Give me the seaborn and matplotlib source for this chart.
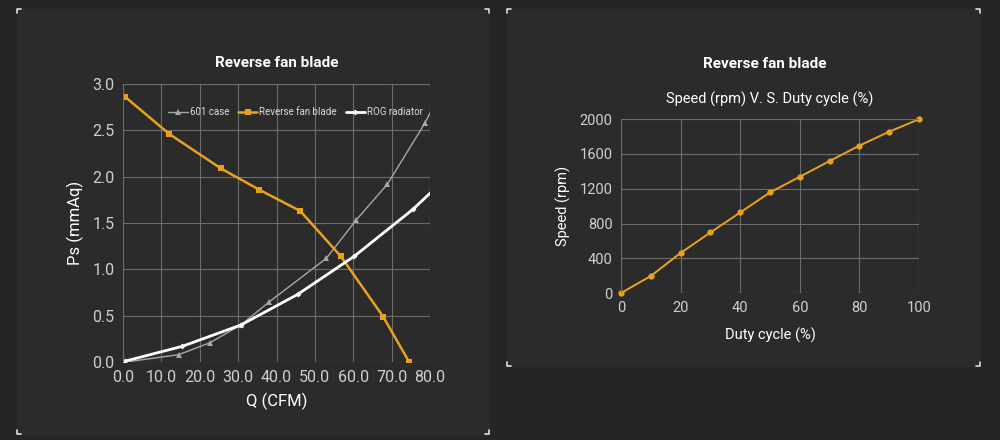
import matplotlib
matplotlib.use("Agg")
import matplotlib.pyplot as plt
import seaborn as sns
import pandas as pd
from matplotlib.patches import Rectangle

# P-Q curve data
case_q = [0.5, 14.5, 22.7, 30.7, 38.1, 53.0, 60.7, 68.9, 78.7, 82.0]
case_ps = [0.0, 0.08, 0.21, 0.40, 0.65, 1.12, 1.53, 1.92, 2.58, 2.85]
blade_q = [0.6, 12.1, 25.5, 35.5, 46.2, 56.8, 67.8, 74.6]
blade_ps = [2.86, 2.46, 2.09, 1.86, 1.63, 1.14, 0.49, 0.0]
rog_q = [0.5, 15.4, 30.7, 45.5, 60.2, 75.6, 82.0]
rog_ps = [0.01, 0.17, 0.40, 0.73, 1.14, 1.65, 1.90]

# speed vs duty cycle
duty = [0, 10, 20, 30, 40, 50, 60, 70, 80, 90, 100]
speed = [0, 196, 461, 697, 927, 1158, 1338, 1519, 1696, 1857, 2000]

BG = "#252525"
PANEL = "#2b2b2b"
ORANGE = "#e9a21e"
GRID = "#6c6c6c"
TICK = "#cfcfcf"

sns.set_style("dark")
plt.rcParams["font.family"] = ["Roboto", "DejaVu Sans"]

fig = plt.figure(figsize=(10, 4.4), dpi=100, facecolor=BG)

# panel backgrounds + corner marks
def panel(x0, y0, x1, y1):
    fig.patches.append(Rectangle((x0 / 1000, 1 - y1 / 440), (x1 - x0) / 1000, (y1 - y0) / 440,
                                 transform=fig.transFigure, color=PANEL, zorder=-10))
    d = 4
    for (cx, cy, sx, sy) in [(x0, y0, 1, 1), (x1, y0, -1, 1), (x0, y1, 1, -1), (x1, y1, -1, -1)]:
        fig.lines.append(plt.Line2D([(cx + sx * d) / 1000, cx / 1000, cx / 1000],
                                    [1 - cy / 440, 1 - cy / 440, 1 - (cy + sy * d) / 440],
                                    transform=fig.transFigure, color="#dddddd", lw=1.2))

panel(17, 9, 489, 434)
panel(507, 9, 980, 366)

# ---- left chart
ax1 = fig.add_axes([0.123, 0.177, 0.307, 0.632])
pq = pd.concat([
    pd.DataFrame({"q": case_q, "ps": case_ps, "series": "601 case"}),
    pd.DataFrame({"q": blade_q, "ps": blade_ps, "series": "Reverse fan blade"}),
    pd.DataFrame({"q": rog_q, "ps": rog_ps, "series": "ROG radiator"}),
])
styles = {"601 case": ("#a8a8a8", "^", 1.0, 4),
          "Reverse fan blade": (ORANGE, "s", 1.8, 5),
          "ROG radiator": ("#ffffff", "D", 2.0, 3)}
for name, grp in pq.groupby("series", sort=False):
    c, m, lw, ms = styles[name]
    sns.lineplot(data=grp, x="q", y="ps", ax=ax1, color=c, marker=m, lw=lw,
                 markersize=ms, markeredgewidth=0, label=name, sort=False, clip_on=True)

ax1.set_xlim(0, 80)
ax1.set_ylim(0, 3.0)
ax1.set_xticks(range(0, 81, 10))
ax1.set_xticklabels([f"{v:.1f}" for v in range(0, 81, 10)])
ax1.set_yticks([0, 0.5, 1.0, 1.5, 2.0, 2.5, 3.0])
ax1.set_yticklabels([f"{v:.1f}" for v in [0, 0.5, 1.0, 1.5, 2.0, 2.5, 3.0]])
ax1.set_xlabel("Q (CFM)", color="white", fontsize=12, labelpad=5)
ax1.set_ylabel("Ps (mmAq)", color="white", fontsize=12, labelpad=6)
ax1.set_title("Reverse fan blade", color="white", fontsize=11, fontweight="bold", pad=12)
leg = ax1.legend(loc="upper right", bbox_to_anchor=(0.99, 0.93), ncol=3, frameon=False,
                 fontsize=7, labelcolor="#dddddd", handlelength=2.0, columnspacing=0.9,
                 handletextpad=0.2, borderaxespad=0)

# ---- right chart
ax2 = fig.add_axes([0.621, 0.334, 0.298, 0.395])
sd = pd.DataFrame({"duty": duty, "speed": speed})
sns.lineplot(data=sd, x="duty", y="speed", ax=ax2, color=ORANGE, marker="o", lw=1.4,
             markersize=4.5, markeredgewidth=0, clip_on=False)
ax2.set_xlim(0, 100)
ax2.set_ylim(0, 2000)
ax2.set_xticks(range(0, 101, 20))
ax2.set_yticks(range(0, 2001, 400))
ax2.set_xlabel("Duty cycle (%)", color="white", fontsize=10.5, labelpad=9)
ax2.set_ylabel("Speed (rpm)", color="white", fontsize=10.5, labelpad=6)
ax2.set_title("Speed (rpm) V. S. Duty cycle (%)", color="white", fontsize=10.5, pad=11)
fig.text(0.765, 0.855, "Reverse fan blade", color="white", fontsize=11, fontweight="bold",
         ha="center", va="center")

for ax, fs in [(ax1, 11.5), (ax2, 10.5)]:
    ax.set_facecolor("none")
    ax.grid(True, color=GRID, lw=0.8)
    for s in ax.spines.values():
        s.set_visible(False)
    ax.plot([1, 1], [0, 1], transform=ax.transAxes, color=GRID, lw=0.8)
    ax.plot([0, 1], [1, 1], transform=ax.transAxes, color=GRID, lw=0.8)
    ax.plot([0, 0], [0, 1], transform=ax.transAxes, color=GRID, lw=0.8)
    ax.plot([0, 1], [0, 0], transform=ax.transAxes, color=GRID, lw=0.8)
    ax.tick_params(colors=TICK, labelsize=fs, length=0, pad=6)
    ax.set_axisbelow(True)

fig.savefig("out.png", dpi=100, facecolor=BG)
